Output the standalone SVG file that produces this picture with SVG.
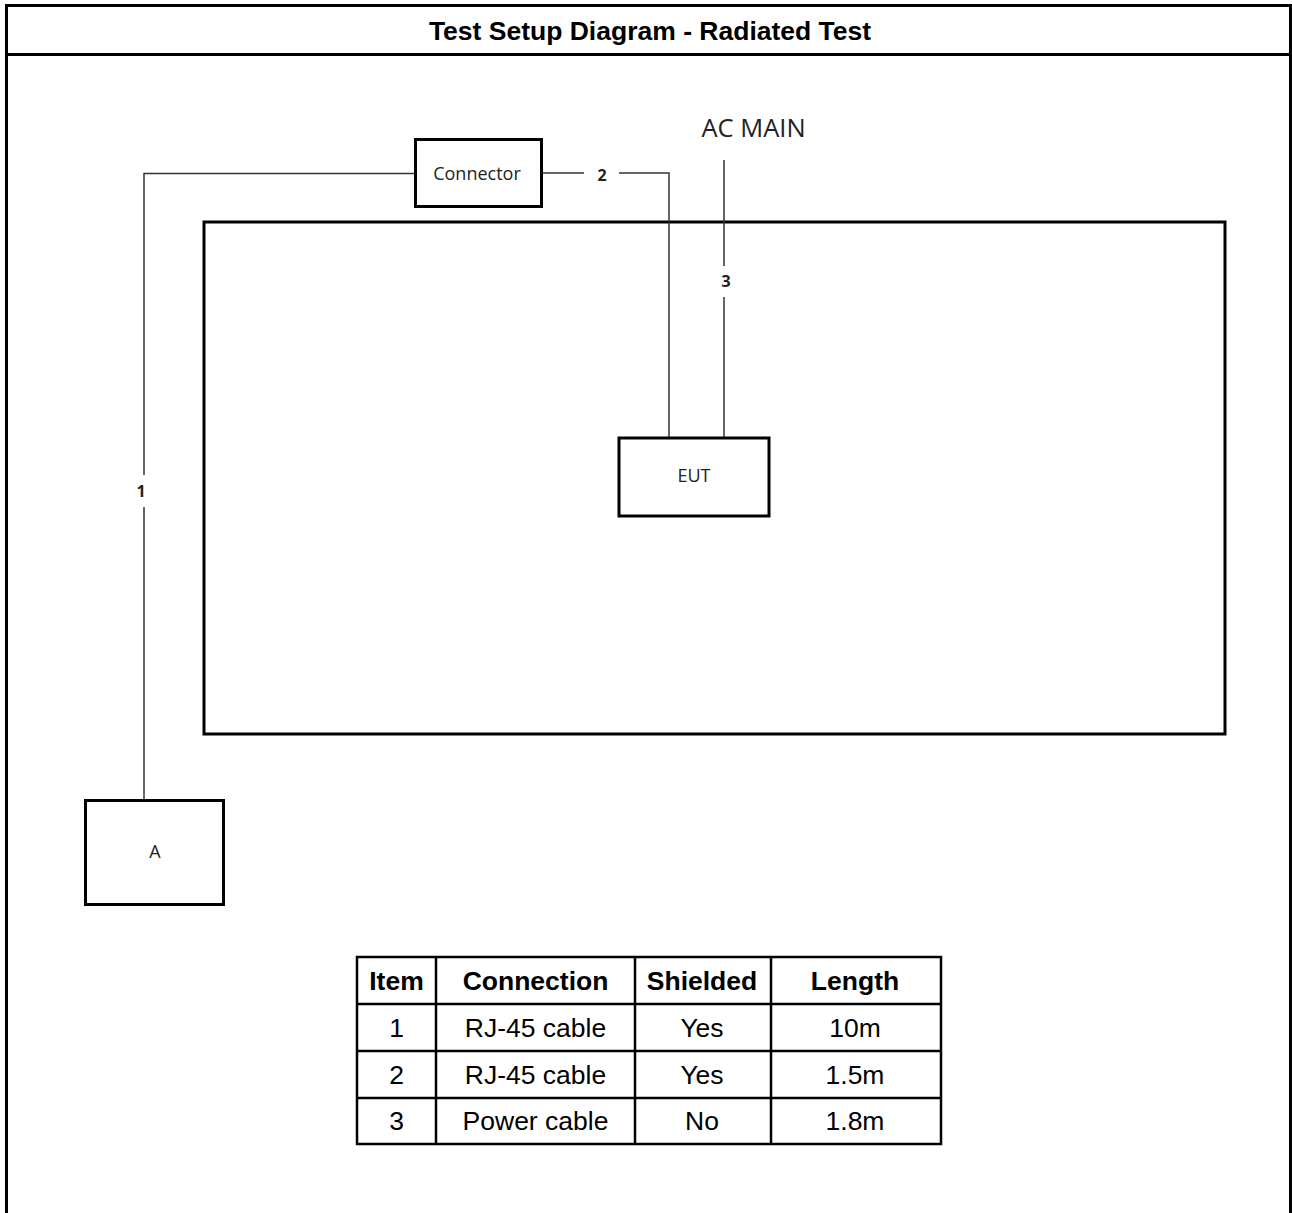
<svg xmlns="http://www.w3.org/2000/svg" width="1292" height="1213" viewBox="0 0 1292 1213">
<style>
.frame{fill:none;stroke:#000;stroke-width:3}
.box{fill:#fff;stroke:#000;stroke-width:3}
.wire{fill:none;stroke:#333;stroke-width:1.5}
.lbl{font-family:"Open Sans","Liberation Sans",sans-serif;font-size:18px;fill:#222;text-anchor:middle}
.num{font-family:"Open Sans","Liberation Sans",sans-serif;font-size:16px;font-weight:bold;fill:#222;text-anchor:middle}
.th{font-family:"Liberation Sans",Arial,sans-serif;font-size:26.5px;font-weight:bold;fill:#000;text-anchor:middle}
.td{font-family:"Liberation Sans",Arial,sans-serif;font-size:26.5px;fill:#000;text-anchor:middle}
.tbl{fill:none;stroke:#000;stroke-width:2.5}
</style>
<rect width="1292" height="1213" fill="#fff"/>
<g id="frame">
<path class="frame" d="M6.5,1213 V5.5 H1290.5 V1213"/>
<line class="frame" x1="6.5" y1="54.5" x2="1290.5" y2="54.5"/>
<text x="650" y="40" class="th">Test Setup Diagram - Radiated Test</text>
</g>
<g id="table-area">
<rect x="204" y="222" width="1021" height="512" class="frame"/>
</g>
<g id="connectors">
<path class="wire" d="M144,475 V173.5 H415.5"/>
<path class="wire" d="M144,507 V800"/>
<text x="141" y="497" class="num">1</text>
<path class="wire" d="M541.5,173 H584"/>
<path class="wire" d="M619,173 H669 V438"/>
<text x="602" y="181" class="num">2</text>
<path class="wire" d="M724,160 V266"/>
<path class="wire" d="M724,297 V438"/>
<text x="726" y="287" class="num">3</text>
</g>
<g id="ac-main">
<text x="753.5" y="137" font-family="'Open Sans','Liberation Sans',sans-serif" font-size="25.5" fill="#222" text-anchor="middle">AC MAIN</text>
</g>
<g id="connector">
<rect x="415.5" y="139.5" width="126" height="67" class="box"/>
<text x="477" y="180" class="lbl">Connector</text>
</g>
<g id="eut">
<rect x="619" y="438" width="150" height="78" class="box"/>
<text x="694" y="482" class="lbl">EUT</text>
</g>
<g id="a">
<rect x="85.5" y="800.5" width="138" height="104" class="box"/>
<text x="155" y="858" class="lbl">A</text>
</g>
<g id="table">
<rect x="357" y="957" width="584" height="187" class="tbl"/>
<line class="tbl" x1="357" y1="1004" x2="941" y2="1004"/>
<line class="tbl" x1="357" y1="1051" x2="941" y2="1051"/>
<line class="tbl" x1="357" y1="1098" x2="941" y2="1098"/>
<line class="tbl" x1="436" y1="957" x2="436" y2="1144"/>
<line class="tbl" x1="635" y1="957" x2="635" y2="1144"/>
<line class="tbl" x1="771" y1="957" x2="771" y2="1144"/>
<text x="396.5" y="990" class="th">Item</text>
<text x="535.5" y="990" class="th">Connection</text>
<text x="702" y="990" class="th">Shielded</text>
<text x="855" y="990" class="th">Length</text>
<text x="396.5" y="1037" class="td">1</text>
<text x="535.5" y="1037" class="td">RJ-45 cable</text>
<text x="702" y="1037" class="td">Yes</text>
<text x="855" y="1037" class="td">10m</text>
<text x="396.5" y="1084" class="td">2</text>
<text x="535.5" y="1084" class="td">RJ-45 cable</text>
<text x="702" y="1084" class="td">Yes</text>
<text x="855" y="1084" class="td">1.5m</text>
<text x="396.5" y="1130" class="td">3</text>
<text x="535.5" y="1130" class="td">Power cable</text>
<text x="702" y="1130" class="td">No</text>
<text x="855" y="1130" class="td">1.8m</text>
</g>
</svg>
